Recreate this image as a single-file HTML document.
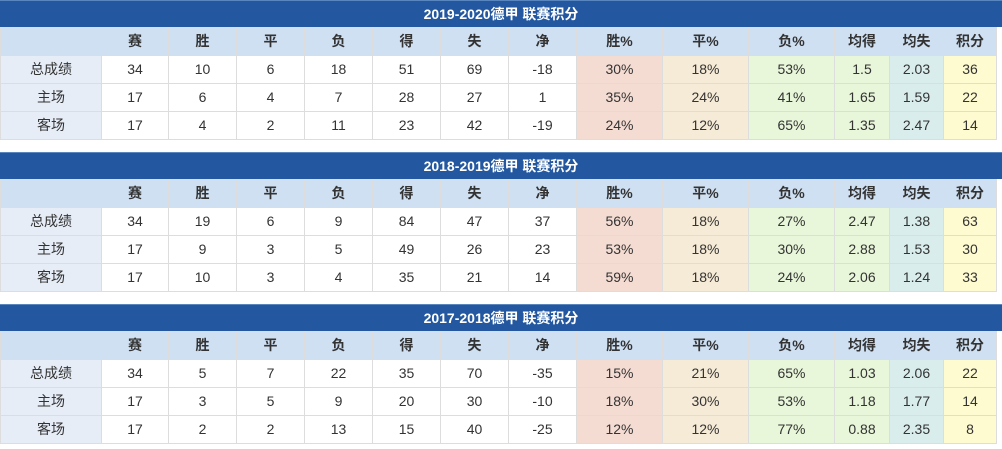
<!DOCTYPE html>
<html><head><meta charset="utf-8"><style>
body{margin:0;background:#fff;font-family:"Liberation Sans","Noto Sans CJK SC",sans-serif;width:1002px;height:449px;overflow:hidden}
.blk{position:absolute;left:0;width:1002px}
.t{height:27px;background:#2358a0;color:#fff;font-weight:bold;font-size:14px;line-height:27px;text-align:center;border-top:1px solid #5a86c0;box-sizing:border-box}
table{border-collapse:collapse;table-layout:fixed;width:996px;font-size:14px;color:#333}
td{height:27px;border:1px solid #ddd;text-align:center;padding:0;line-height:27px}
tr.h td{background:#cfe0f3;font-weight:bold}
td.f{background:#e6edf7}
td.a{background:#f5dcd3}td.b{background:#f6ebd6}td.c{background:#e8f6d9}td.d{background:#e8f6d9}td.e{background:#d9eeec}td.g{background:#fefbd1}
</style></head><body>
<div class="blk" style="top:0">
<div class="t">2019-2020德甲 联赛积分</div>
<table><colgroup><col style="width:101px"><col style="width:67px"><col style="width:68px"><col style="width:68px"><col style="width:68px"><col style="width:68px"><col style="width:68px"><col style="width:68px"><col style="width:86px"><col style="width:86px"><col style="width:86px"><col style="width:55px"><col style="width:54px"><col style="width:53px"></colgroup>
<tr class="h"><td></td><td>赛</td><td>胜</td><td>平</td><td>负</td><td>得</td><td>失</td><td>净</td><td>胜%</td><td>平%</td><td>负%</td><td>均得</td><td>均失</td><td>积分</td></tr>
<tr><td class="f">总成绩</td><td>34</td><td>10</td><td>6</td><td>18</td><td>51</td><td>69</td><td>-18</td><td class="a">30%</td><td class="b">18%</td><td class="c">53%</td><td class="d">1.5</td><td class="e">2.03</td><td class="g">36</td></tr>
<tr><td class="f">主场</td><td>17</td><td>6</td><td>4</td><td>7</td><td>28</td><td>27</td><td>1</td><td class="a">35%</td><td class="b">24%</td><td class="c">41%</td><td class="d">1.65</td><td class="e">1.59</td><td class="g">22</td></tr>
<tr><td class="f">客场</td><td>17</td><td>4</td><td>2</td><td>11</td><td>23</td><td>42</td><td>-19</td><td class="a">24%</td><td class="b">12%</td><td class="c">65%</td><td class="d">1.35</td><td class="e">2.47</td><td class="g">14</td></tr>
</table></div>
<div class="blk" style="top:152px">
<div class="t">2018-2019德甲 联赛积分</div>
<table><colgroup><col style="width:101px"><col style="width:67px"><col style="width:68px"><col style="width:68px"><col style="width:68px"><col style="width:68px"><col style="width:68px"><col style="width:68px"><col style="width:86px"><col style="width:86px"><col style="width:86px"><col style="width:55px"><col style="width:54px"><col style="width:53px"></colgroup>
<tr class="h"><td></td><td>赛</td><td>胜</td><td>平</td><td>负</td><td>得</td><td>失</td><td>净</td><td>胜%</td><td>平%</td><td>负%</td><td>均得</td><td>均失</td><td>积分</td></tr>
<tr><td class="f">总成绩</td><td>34</td><td>19</td><td>6</td><td>9</td><td>84</td><td>47</td><td>37</td><td class="a">56%</td><td class="b">18%</td><td class="c">27%</td><td class="d">2.47</td><td class="e">1.38</td><td class="g">63</td></tr>
<tr><td class="f">主场</td><td>17</td><td>9</td><td>3</td><td>5</td><td>49</td><td>26</td><td>23</td><td class="a">53%</td><td class="b">18%</td><td class="c">30%</td><td class="d">2.88</td><td class="e">1.53</td><td class="g">30</td></tr>
<tr><td class="f">客场</td><td>17</td><td>10</td><td>3</td><td>4</td><td>35</td><td>21</td><td>14</td><td class="a">59%</td><td class="b">18%</td><td class="c">24%</td><td class="d">2.06</td><td class="e">1.24</td><td class="g">33</td></tr>
</table></div>
<div class="blk" style="top:304px">
<div class="t">2017-2018德甲 联赛积分</div>
<table><colgroup><col style="width:101px"><col style="width:67px"><col style="width:68px"><col style="width:68px"><col style="width:68px"><col style="width:68px"><col style="width:68px"><col style="width:68px"><col style="width:86px"><col style="width:86px"><col style="width:86px"><col style="width:55px"><col style="width:54px"><col style="width:53px"></colgroup>
<tr class="h"><td></td><td>赛</td><td>胜</td><td>平</td><td>负</td><td>得</td><td>失</td><td>净</td><td>胜%</td><td>平%</td><td>负%</td><td>均得</td><td>均失</td><td>积分</td></tr>
<tr><td class="f">总成绩</td><td>34</td><td>5</td><td>7</td><td>22</td><td>35</td><td>70</td><td>-35</td><td class="a">15%</td><td class="b">21%</td><td class="c">65%</td><td class="d">1.03</td><td class="e">2.06</td><td class="g">22</td></tr>
<tr><td class="f">主场</td><td>17</td><td>3</td><td>5</td><td>9</td><td>20</td><td>30</td><td>-10</td><td class="a">18%</td><td class="b">30%</td><td class="c">53%</td><td class="d">1.18</td><td class="e">1.77</td><td class="g">14</td></tr>
<tr><td class="f">客场</td><td>17</td><td>2</td><td>2</td><td>13</td><td>15</td><td>40</td><td>-25</td><td class="a">12%</td><td class="b">12%</td><td class="c">77%</td><td class="d">0.88</td><td class="e">2.35</td><td class="g">8</td></tr>
</table></div>
</body></html>
